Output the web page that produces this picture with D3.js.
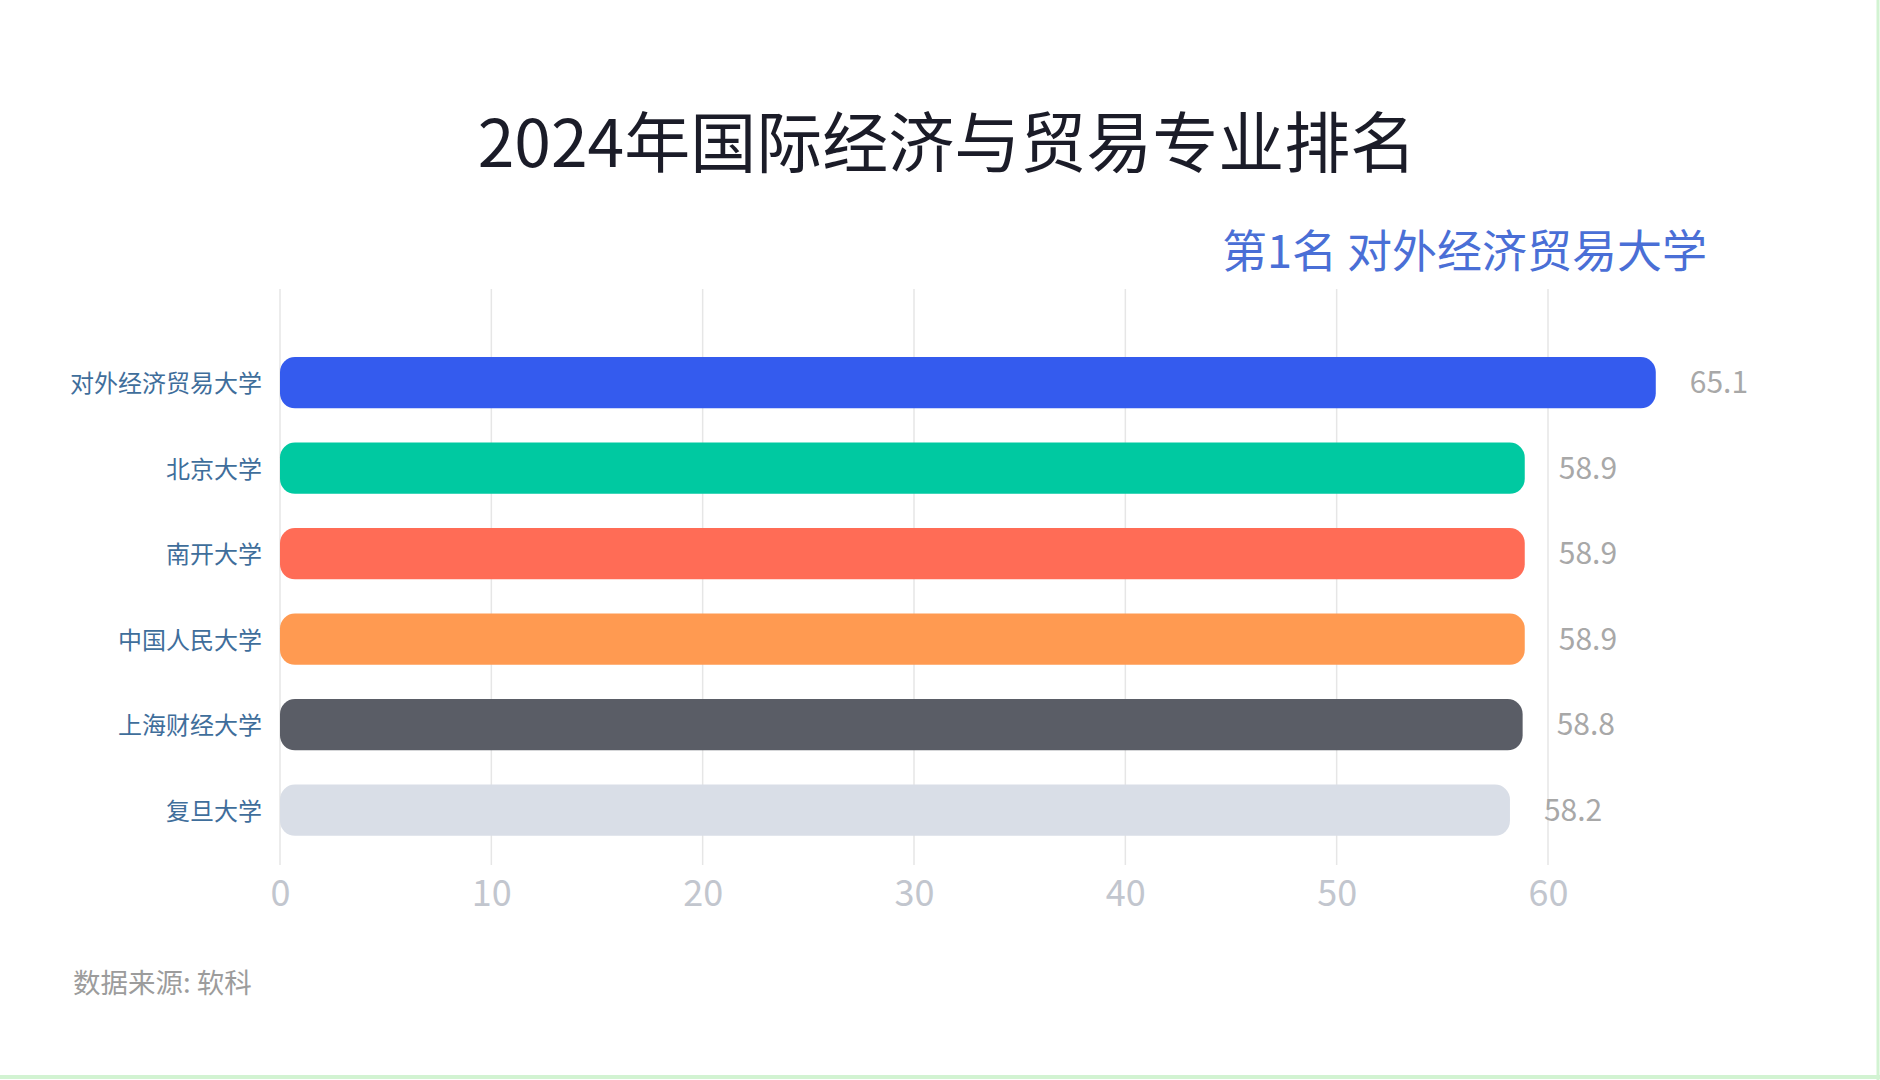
<!DOCTYPE html>
<html>
<head>
<meta charset="utf-8">
<script src="https://cdn.jsdelivr.net/npm/d3@7"></script>
<style>
  html, body { margin: 0; padding: 0; background: #fff; }
  svg { display: block; font-family: "Noto Sans CJK SC", "Noto Sans", sans-serif; }
</style>
</head>
<body>
<script>
/* chart data */
var width = 1880;
var height = 1080;

var schools = ["对外经济贸易大学", "北京大学", "南开大学", "中国人民大学", "上海财经大学", "复旦大学"];
var scores = [65.1, 58.9, 58.9, 58.9, 58.8, 58.2];
var barColors = ["#345bee", "#00c9a1", "#ff6c56", "#ff9a51", "#5a5d66", "#d9dee7"];
var xTicks = [0, 10, 20, 30, 40, 50, 60];

var title = "2024年国际经济与贸易专业排名";
var subtitle = "第1名 " + schools[0];
var source = "数据来源: 软科";

var svg = d3.select("body").append("svg")
    .attr("width", width)
    .attr("height", height);

// scales
var x = d3.scaleLinear().domain([0, 60]).range([280, 1548]);
var y = d3.scaleBand()
    .domain(schools)
    .range([339.9, 852.9])
    .paddingInner(0.4)
    .paddingOuter(0.2);

// grid lines
svg.append("g")
    .attr("class", "grid")
    .selectAll("line")
    .data(xTicks)
    .enter()
    .append("line")
    .attr("x1", function(d){ return x(d); })
    .attr("x2", function(d){ return x(d); })
    .attr("y1", 289)
    .attr("y2", 865)
    .attr("stroke", "#e6e6e6")
    .attr("stroke-width", 1.5);

// x axis labels
var xAxis = d3.axisBottom(x).tickValues(xTicks).tickSize(0).tickPadding(0);
var xg = svg.append("g")
    .attr("transform", "translate(0,880)")
    .call(xAxis);
xg.select(".domain").remove();
xg.selectAll("text")
    .attr("font-family", "'Noto Sans CJK SC', 'Noto Sans', sans-serif")
    .attr("font-size", 36)
    .attr("fill", "#c2c6ce");

// y axis labels
var yAxis = d3.axisLeft(y).tickSize(0).tickPadding(0);
var yg = svg.append("g")
    .attr("transform", "translate(262,2)")
    .call(yAxis);
yg.select(".domain").remove();
yg.selectAll("text")
    .attr("font-family", "'Noto Sans CJK SC', sans-serif")
    .attr("font-size", 24)
    .attr("fill", "#3f6e9b");

// bars
svg.append("g")
    .selectAll("rect")
    .data(schools)
    .enter()
    .append("rect")
    .attr("x", x(0))
    .attr("y", function(d){ return y(d); })
    .attr("width", function(d, i){ return x(scores[i]) - x(0); })
    .attr("height", y.bandwidth())
    .attr("rx", 15)
    .attr("ry", 15)
    .attr("fill", function(d, i){ return barColors[i]; });

// value labels
svg.append("g")
    .selectAll("text")
    .data(schools)
    .enter()
    .append("text")
    .attr("x", function(d, i){ return x(scores[i]) + 34; })
    .attr("y", function(d){ return y(d) + y.bandwidth() / 2; })
    .attr("dy", "0.35em")
    .attr("font-size", 30)
    .attr("fill", "#a8a8a8")
    .text(function(d, i){ return scores[i].toFixed(1); });

// titles
svg.append("text")
    .attr("x", 947)
    .attr("y", 167)
    .attr("text-anchor", "middle")
    .attr("font-size", 66)
    .attr("fill", "#1b1c28")
    .text(title);

svg.append("text")
    .attr("x", 1707)
    .attr("y", 268)
    .attr("text-anchor", "end")
    .attr("font-size", 45)
    .attr("fill", "#4a6fd6")
    .text(subtitle);

svg.append("text")
    .attr("x", 73)
    .attr("y", 993)
    .attr("font-size", 27.5)
    .attr("fill", "#9c9c9c")
    .text(source);

// thin green frame at right and bottom edge
svg.append("line")
    .attr("x1", 1878).attr("x2", 1878).attr("y1", 0).attr("y2", height)
    .attr("stroke", "#d2f3d2").attr("stroke-width", 3);
svg.append("line")
    .attr("x1", 0).attr("x2", width).attr("y1", 1077).attr("y2", 1077)
    .attr("stroke", "#d2f3d2").attr("stroke-width", 4);
</script>
</body>
</html>
